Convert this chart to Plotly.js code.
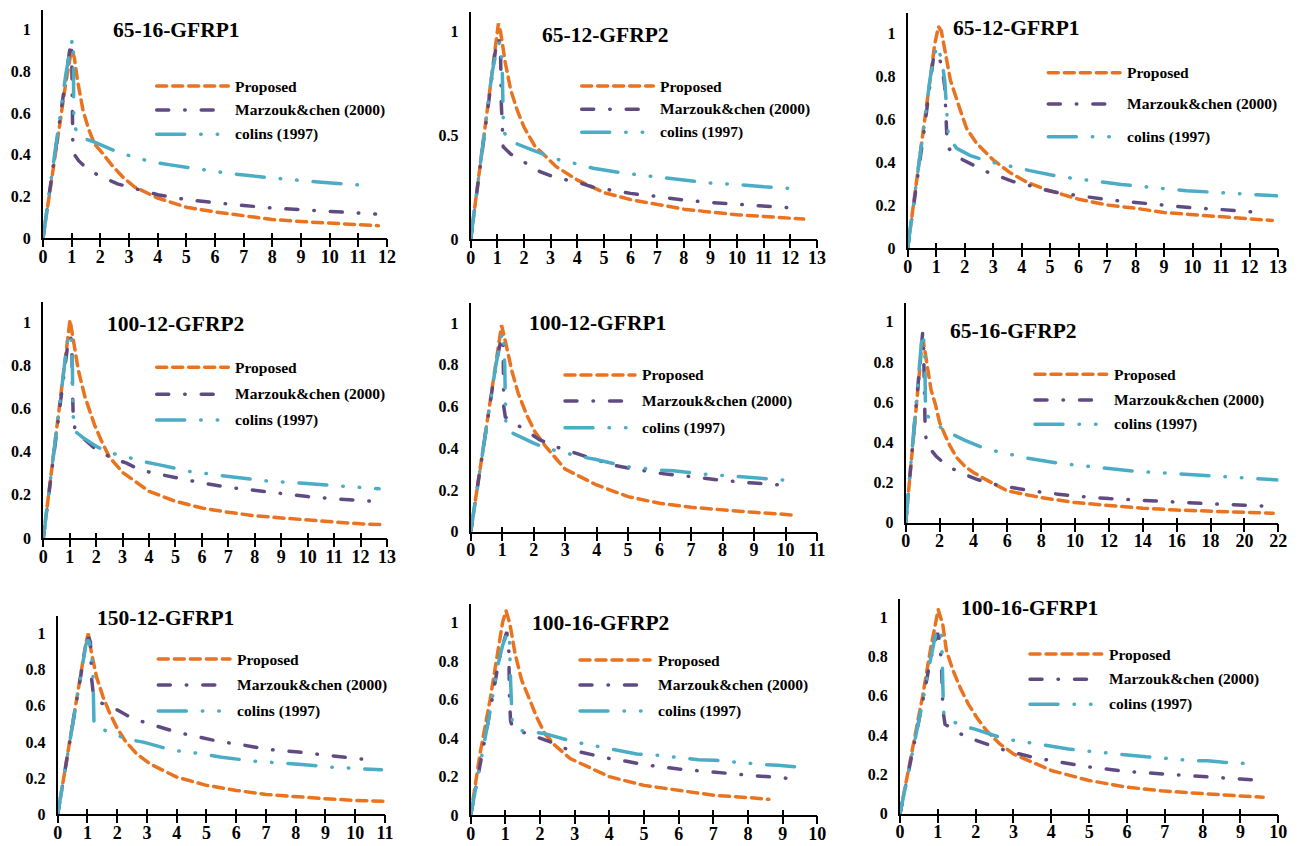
<!DOCTYPE html>
<html><head><meta charset="utf-8">
<script src="https://cdn.plot.ly/plotly-3.0.1.min.js"></script>
<style>
html,body{margin:0;padding:0;background:#fff;}
#chart{width:1298px;height:846px;}
.js-line, .shapelayer path { stroke-linecap: round !important; }
</style></head><body><div id="chart"></div>
<script>
// ---------- DATA ----------
const seriesNames = ['Proposed', 'Marzouk&chen (2000)', 'colins (1997)'];
const panelTitles = ['65-16-GFRP1', '65-12-GFRP2', '65-12-GFRP1', '100-12-GFRP2', '100-12-GFRP1', '65-16-GFRP2', '150-12-GFRP1', '100-16-GFRP2', '100-16-GFRP1'];
const xMaxes = [12, 13, 13, 13, 11, 22, 11, 10, 10];
const xDticks = [1, 1, 1, 1, 1, 2, 1, 1, 1];
const yDticks = [0.2, 0.5, 0.2, 0.2, 0.2, 0.2, 0.2, 0.2, 0.2];

// Panel 1: 65-16-GFRP1
const p1PropX = [0, 0.3, 0.6, 0.8, 0.95, 1.03, 1.1, 1.2, 1.3, 1.4, 1.6, 1.8, 2.0, 2.4, 2.8, 3.2, 4, 5, 6, 7, 8, 9, 10, 11, 11.7];
const p1PropY = [0, 0.27, 0.56, 0.75, 0.87, 0.9, 0.86, 0.76, 0.68, 0.61, 0.52, 0.45, 0.42, 0.35, 0.29, 0.245, 0.192, 0.148, 0.125, 0.105, 0.089, 0.079, 0.071, 0.064, 0.059];
const p1MarzX = [0, 0.3, 0.6, 0.8, 0.97, 1.0, 1.02, 1.04, 1.1, 1.25, 1.6, 2.1, 2.6, 3.1, 4, 5, 6, 7, 8, 9, 10, 11, 11.6];
const p1MarzY = [0, 0.3, 0.58, 0.78, 0.94, 0.9, 0.6, 0.45, 0.4, 0.37, 0.325, 0.29, 0.26, 0.24, 0.208, 0.184, 0.168, 0.156, 0.144, 0.136, 0.128, 0.122, 0.115];
const p1ColX = [0, 0.3, 0.6, 0.8, 1.0, 1.06, 1.07, 1.1, 1.2, 1.5, 1.8, 2.2, 2.7, 3.2, 3.8, 4.5, 5.5, 6.5, 7.5, 8.5, 9.5, 10.5, 11.5];
const p1ColY = [0, 0.29, 0.59, 0.79, 0.94, 0.955, 0.6, 0.54, 0.5, 0.475, 0.46, 0.435, 0.407, 0.388, 0.365, 0.35, 0.33, 0.31, 0.295, 0.281, 0.27, 0.26, 0.25];

// Panel 2: 65-12-GFRP2
const p2PropX = [0, 0.3, 0.6, 0.8, 0.95, 1.04, 1.12, 1.2, 1.3, 1.5, 1.75, 2.0, 2.4, 2.8, 3.2, 4, 5, 6, 7, 8, 9, 10, 11, 12, 12.5];
const p2PropY = [0, 0.3, 0.6, 0.8, 0.96, 1.04, 1.0, 0.93, 0.85, 0.72, 0.62, 0.54, 0.45, 0.4, 0.35, 0.285, 0.224, 0.19, 0.165, 0.144, 0.13, 0.117, 0.109, 0.1, 0.096];
const p2MarzX = [0, 0.3, 0.6, 0.8, 0.95, 1.05, 1.12, 1.15, 1.18, 1.22, 1.5, 2.0, 2.6, 3.1, 3.6, 4.1, 4.6, 5.3, 6, 7, 8, 9, 10, 11, 12.2];
const p2MarzY = [0, 0.3, 0.6, 0.8, 0.93, 0.97, 0.9, 0.65, 0.52, 0.445, 0.41, 0.37, 0.325, 0.3, 0.285, 0.27, 0.25, 0.234, 0.22, 0.205, 0.188, 0.176, 0.167, 0.157, 0.149];
const p2ColX = [0, 0.3, 0.6, 0.8, 1.0, 1.1, 1.18, 1.2, 1.23, 1.35, 1.75, 2.3, 2.85, 3.4, 4.0, 4.6, 5.8, 7.0, 8.0, 9.0, 10.0, 11.0, 12.3];
const p2ColY = [0, 0.3, 0.6, 0.8, 0.93, 0.95, 0.85, 0.6, 0.52, 0.494, 0.458, 0.43, 0.405, 0.378, 0.362, 0.341, 0.317, 0.3, 0.283, 0.27, 0.263, 0.252, 0.242];

// Panel 3: 65-12-GFRP1
const p3PropX = [0, 0.3, 0.6, 0.8, 0.95, 1.08, 1.18, 1.25, 1.35, 1.5, 1.85, 2.07, 2.42, 3.0, 3.6, 4.2, 4.9, 6, 7, 8, 9, 10, 11, 12, 12.8];
const p3PropY = [0, 0.3, 0.6, 0.8, 0.95, 1.03, 1.01, 0.96, 0.88, 0.78, 0.64, 0.556, 0.487, 0.41, 0.35, 0.305, 0.27, 0.227, 0.2, 0.185, 0.165, 0.155, 0.144, 0.136, 0.128];
const p3MarzX = [0, 0.3, 0.6, 0.8, 0.92, 1.05, 1.2, 1.3, 1.35, 1.38, 1.43, 1.84, 2.3, 2.77, 3.24, 3.7, 4.2, 4.7, 5.25, 6, 7, 8, 9, 10, 11, 12.2];
const p3MarzY = [0, 0.28, 0.57, 0.78, 0.9, 0.9, 0.85, 0.75, 0.6, 0.5, 0.464, 0.417, 0.386, 0.355, 0.332, 0.309, 0.294, 0.274, 0.258, 0.245, 0.225, 0.212, 0.198, 0.187, 0.179, 0.167];
const p3ColX = [0, 0.3, 0.6, 0.8, 1.02, 1.19, 1.3, 1.35, 1.38, 1.43, 1.72, 2.2, 2.77, 3.12, 3.73, 4.29, 5.35, 6.48, 7.5, 8.65, 9.79, 10.9, 12.03, 12.95];
const p3ColY = [0, 0.3, 0.6, 0.8, 0.943, 0.88, 0.78, 0.67, 0.58, 0.518, 0.464, 0.43, 0.405, 0.394, 0.376, 0.36, 0.332, 0.312, 0.296, 0.281, 0.267, 0.258, 0.25, 0.243];

// Panel 4: 100-12-GFRP2
const p4PropX = [0, 0.3, 0.6, 0.8, 0.95, 1.01, 1.16, 1.32, 1.57, 1.95, 2.2, 2.5, 3, 4, 5, 6, 7, 8, 9, 10, 11, 12, 12.8];
const p4PropY = [0, 0.3, 0.6, 0.8, 0.97, 1.01, 0.9, 0.78, 0.656, 0.52, 0.45, 0.375, 0.304, 0.216, 0.17, 0.139, 0.119, 0.103, 0.093, 0.082, 0.074, 0.066, 0.062];
const p4MarzX = [0, 0.3, 0.6, 0.8, 0.95, 1.03, 1.08, 1.1, 1.13, 1.2, 1.5, 2.0, 2.6, 3.15, 3.65, 4.2, 5, 6, 7, 8, 9, 10, 11, 12, 12.85];
const p4MarzY = [0, 0.3, 0.6, 0.8, 0.92, 0.935, 0.9, 0.7, 0.57, 0.5, 0.463, 0.41, 0.37, 0.347, 0.316, 0.3, 0.28, 0.255, 0.235, 0.22, 0.203, 0.192, 0.182, 0.172, 0.167];
const p4ColX = [0, 0.3, 0.6, 0.8, 0.95, 1.05, 1.1, 1.12, 1.15, 1.25, 1.5, 2.0, 2.5, 3.1, 3.75, 4.35, 5.5, 6.7, 7.3, 8.4, 9.7, 10.3, 11.5, 12.7];
const p4ColY = [0, 0.3, 0.6, 0.8, 0.95, 0.94, 0.8, 0.6, 0.52, 0.49, 0.465, 0.425, 0.395, 0.378, 0.355, 0.34, 0.309, 0.29, 0.282, 0.265, 0.255, 0.25, 0.239, 0.228];

// Panel 5: 100-12-GFRP1
const p5PropX = [0, 0.3, 0.6, 0.8, 0.98, 1.12, 1.3, 1.51, 1.78, 2.04, 2.4, 3, 4, 5, 6, 7, 8, 9, 10, 10.2];
const p5PropY = [0, 0.3, 0.6, 0.8, 0.99, 0.9, 0.775, 0.663, 0.559, 0.479, 0.405, 0.3, 0.224, 0.168, 0.136, 0.117, 0.104, 0.093, 0.083, 0.08];
const p5MarzX = [0, 0.3, 0.6, 0.8, 0.98, 1.03, 1.05, 1.1, 1.4, 1.9, 2.2, 2.7, 3.2, 3.6, 4.5, 5, 6, 7, 8, 9, 9.87];
const p5MarzY = [0, 0.3, 0.6, 0.8, 0.935, 0.9, 0.6, 0.55, 0.52, 0.47, 0.44, 0.407, 0.383, 0.36, 0.32, 0.305, 0.28, 0.264, 0.246, 0.233, 0.224];
const p5ColX = [0, 0.3, 0.6, 0.8, 1.0, 1.04, 1.08, 1.1, 1.12, 1.3, 1.57, 2.0, 2.41, 2.94, 3.47, 3.95, 4.95, 5.96, 6.43, 7.44, 8.47, 8.97, 9.93];
const p5ColY = [0, 0.3, 0.6, 0.8, 0.95, 0.958, 0.8, 0.58, 0.495, 0.475, 0.455, 0.425, 0.4, 0.379, 0.36, 0.347, 0.312, 0.296, 0.292, 0.276, 0.264, 0.26, 0.248];

// Panel 6: 65-16-GFRP2
const p6PropX = [0, 0.3, 0.6, 0.8, 0.95, 1.05, 1.15, 1.3, 1.5, 1.75, 2.0, 2.3, 2.6, 3.0, 3.5, 4.0, 4.5, 6, 8, 10, 12, 14, 16, 18, 20, 21.7];
const p6PropY = [0, 0.28, 0.56, 0.75, 0.88, 0.9, 0.84, 0.76, 0.66, 0.59, 0.5, 0.44, 0.385, 0.325, 0.28, 0.25, 0.225, 0.158, 0.125, 0.1, 0.085, 0.072, 0.063, 0.057, 0.05, 0.047];
const p6MarzX = [0, 0.3, 0.6, 0.8, 1.0, 1.05, 1.1, 1.15, 1.24, 1.8, 2.5, 3.3, 4.2, 5, 6, 7, 8, 9, 10, 12, 14, 16, 18, 20, 21.2];
const p6MarzY = [0, 0.28, 0.57, 0.76, 0.945, 0.9, 0.75, 0.46, 0.39, 0.33, 0.28, 0.246, 0.216, 0.195, 0.178, 0.163, 0.152, 0.142, 0.133, 0.12, 0.11, 0.1, 0.094, 0.087, 0.083];
const p6ColX = [0, 0.3, 0.6, 0.8, 0.98, 1.05, 1.13, 1.16, 1.24, 1.5, 1.98, 2.8, 3.5, 4.4, 5.4, 6.3, 7.2, 9, 11, 12, 13.7, 15.6, 16.6, 18.4, 20.3, 22];
const p6ColY = [0, 0.3, 0.6, 0.8, 0.945, 0.93, 0.845, 0.612, 0.537, 0.51, 0.479, 0.438, 0.41, 0.379, 0.354, 0.338, 0.321, 0.296, 0.28, 0.271, 0.255, 0.246, 0.241, 0.23, 0.221, 0.213];

// Panel 7: 150-12-GFRP1
const p7PropX = [0, 0.3, 0.6, 0.8, 0.95, 1.03, 1.14, 1.31, 1.53, 1.76, 1.98, 2.26, 2.65, 3.1, 4, 5, 6, 7, 8, 9, 10, 11];
const p7PropY = [0, 0.3, 0.6, 0.8, 0.95, 1.0, 0.886, 0.757, 0.647, 0.555, 0.482, 0.408, 0.335, 0.279, 0.206, 0.16, 0.132, 0.11, 0.096, 0.086, 0.077, 0.072];
const p7MarzX = [0, 0.3, 0.6, 0.8, 0.95, 1.05, 1.1, 1.14, 1.2, 1.4, 1.6, 2.04, 2.54, 3.0, 3.44, 4.0, 4.5, 5.0, 5.5, 6.0, 7.0, 8.0, 9.1, 10.1, 10.64];
const p7MarzY = [0, 0.3, 0.6, 0.8, 0.94, 0.98, 0.95, 0.75, 0.66, 0.62, 0.607, 0.574, 0.528, 0.504, 0.482, 0.454, 0.436, 0.417, 0.4, 0.39, 0.36, 0.346, 0.325, 0.307, 0.301];
const p7ColX = [0, 0.3, 0.6, 0.8, 0.95, 1.03, 1.1, 1.18, 1.2, 1.22, 1.31, 1.81, 2.35, 2.88, 3.89, 4.42, 4.98, 5.51, 6.57, 7.08, 7.64, 8.2, 9.2, 9.76, 10.32, 10.88];
const p7ColY = [0, 0.3, 0.6, 0.8, 0.94, 0.965, 0.93, 0.82, 0.6, 0.5, 0.482, 0.449, 0.414, 0.399, 0.353, 0.344, 0.329, 0.316, 0.294, 0.289, 0.285, 0.276, 0.261, 0.257, 0.252, 0.246];

// Panel 8: 100-16-GFRP2
const p8PropX = [0, 0.27, 0.56, 0.8, 0.92, 1.02, 1.13, 1.28, 1.47, 1.71, 1.9, 2.14, 2.43, 2.87, 4, 5, 6, 7, 8, 8.6];
const p8PropY = [0, 0.32, 0.6, 0.88, 1.0, 1.06, 0.993, 0.838, 0.7, 0.596, 0.51, 0.423, 0.363, 0.294, 0.2, 0.155, 0.13, 0.104, 0.092, 0.083];
const p8MarzX = [0, 0.27, 0.56, 0.8, 0.92, 1.04, 1.1, 1.12, 1.15, 1.2, 1.6, 1.9, 2.3, 2.7, 3.15, 3.55, 4, 4.5, 5, 6, 7, 8, 9, 9.26];
const p8MarzY = [0, 0.25, 0.54, 0.79, 0.88, 0.95, 0.85, 0.6, 0.49, 0.458, 0.423, 0.406, 0.38, 0.347, 0.328, 0.311, 0.294, 0.28, 0.262, 0.24, 0.222, 0.208, 0.194, 0.19];
const p8ColX = [0, 0.27, 0.56, 0.8, 0.92, 1.06, 1.12, 1.15, 1.17, 1.2, 1.42, 1.71, 2.14, 3.0, 3.47, 3.92, 4.79, 5.25, 5.7, 6.57, 7.05, 7.53, 8.39, 8.86, 9.31, 9.69];
const p8ColY = [0, 0.25, 0.54, 0.79, 0.88, 0.95, 0.9, 0.7, 0.52, 0.475, 0.44, 0.435, 0.423, 0.38, 0.363, 0.345, 0.318, 0.314, 0.306, 0.288, 0.285, 0.276, 0.264, 0.259, 0.254, 0.247];

// Panel 9: 100-16-GFRP1
const p9PropX = [0, 0.3, 0.6, 0.8, 0.93, 1.01, 1.13, 1.23, 1.41, 1.59, 1.81, 2.03, 2.29, 2.64, 3, 4, 5, 6, 7, 8, 9, 9.6];
const p9PropY = [0, 0.3, 0.6, 0.83, 0.97, 1.04, 0.963, 0.828, 0.726, 0.642, 0.557, 0.49, 0.422, 0.355, 0.304, 0.22, 0.169, 0.135, 0.115, 0.101, 0.09, 0.084];
const p9MarzX = [0, 0.3, 0.6, 0.8, 0.99, 1.05, 1.1, 1.12, 1.15, 1.19, 1.66, 2.03, 2.4, 2.8, 3.17, 3.52, 4, 4.5, 5, 6, 7, 8, 9, 9.6];
const p9MarzY = [0, 0.28, 0.57, 0.78, 0.92, 0.88, 0.75, 0.6, 0.507, 0.456, 0.4, 0.372, 0.346, 0.321, 0.304, 0.287, 0.27, 0.255, 0.238, 0.215, 0.2, 0.189, 0.177, 0.169];
const p9ColX = [0, 0.3, 0.6, 0.8, 0.95, 1.04, 1.1, 1.12, 1.15, 1.2, 1.59, 1.98, 2.78, 3.22, 3.61, 4.45, 4.85, 5.24, 6.08, 6.5, 6.92, 7.71, 8.13, 8.55, 9.38];
const p9ColY = [0, 0.28, 0.57, 0.78, 0.92, 0.946, 0.9, 0.75, 0.52, 0.49, 0.451, 0.431, 0.38, 0.368, 0.355, 0.329, 0.321, 0.313, 0.296, 0.29, 0.284, 0.27, 0.27, 0.262, 0.253];

// ---------- ASSEMBLY ----------
const panelSeries = [
  [[p1PropX, p1PropY], [p1MarzX, p1MarzY], [p1ColX, p1ColY]],
  [[p2PropX, p2PropY], [p2MarzX, p2MarzY], [p2ColX, p2ColY]],
  [[p3PropX, p3PropY], [p3MarzX, p3MarzY], [p3ColX, p3ColY]],
  [[p4PropX, p4PropY], [p4MarzX, p4MarzY], [p4ColX, p4ColY]],
  [[p5PropX, p5PropY], [p5MarzX, p5MarzY], [p5ColX, p5ColY]],
  [[p6PropX, p6PropY], [p6MarzX, p6MarzY], [p6ColX, p6ColY]],
  [[p7PropX, p7PropY], [p7MarzX, p7MarzY], [p7ColX, p7ColY]],
  [[p8PropX, p8PropY], [p8MarzX, p8MarzY], [p8ColX, p8ColY]],
  [[p9PropX, p9PropY], [p9MarzX, p9MarzY], [p9ColX, p9ColY]]
];

const W = 1298, H = 846;
// plot area boxes in px: [left, right, top, bottom]
const boxes = [
  [43, 387, 10, 238], [470.7, 817, 12, 239], [907.7, 1278, 12.7, 248],
  [43.3, 387, 301.7, 538], [470.7, 817, 303.3, 531.7], [905.7, 1278.3, 302.7, 522.7],
  [57.7, 385, 616.3, 814.3], [470.7, 817.3, 604, 815.3], [900, 1278.3, 598.7, 813.7]
];
const titlePos = [[176.5, 30.5], [605, 35], [1016.7, 27.5], [175, 324], [597.5, 323.3], [1013.3, 330.8], [165.8, 617.5], [600, 622.5], [1029.2, 607.5]];
// legend: [sampleX0, sampleX1, textX, row1Y, row2Y, row3Y]
const legendPos = [
  [156.7, 228.3, 233.3, 86, 110, 134.3], [581.7, 653.3, 658.3, 86, 109.3, 132.3], [1048.3, 1120, 1125, 72.7, 104, 136.7],
  [156.7, 228.3, 232.7, 367.3, 394.3, 420], [565, 635, 640, 375, 401, 427.7], [1035, 1106.7, 1111.7, 374.3, 400, 424.3],
  [158.3, 230, 235, 659, 685, 711], [580, 650, 656, 660, 685, 711], [1030, 1101.7, 1106.7, 654, 679.3, 704.3]
];
const colors = ['#E9731F', '#5F4B82', '#4BACC6'];
const dashes = ['10px,6px', '12px,16px,0.5px,16px', '28px,16px,0.5px,16px,0.5px,16px'];
const LW = 3.5;
const serif = 'Liberation Serif, Times New Roman, serif';

const traces = [];
const layout = {
  width: W, height: H, margin: {l: 0, r: 0, t: 0, b: 0},
  paper_bgcolor: '#fff', plot_bgcolor: 'rgba(0,0,0,0)', showlegend: false,
  font: {family: serif, color: '#000'},
  annotations: [], shapes: []
};
const px2x = v => v / W, px2y = v => 1 - v / H;

for (let k = 0; k < 9; k++) {
  const n = k + 1;
  const xa = n === 1 ? 'x' : 'x' + n, ya = n === 1 ? 'y' : 'y' + n;
  const xk = n === 1 ? 'xaxis' : 'xaxis' + n, yk = n === 1 ? 'yaxis' : 'yaxis' + n;
  const b = boxes[k];
  layout[xk] = {
    domain: [px2x(b[0]), px2x(b[1])], anchor: ya, range: [0, xMaxes[k]],
    showline: true, linecolor: '#000', linewidth: 2, showgrid: false, zeroline: false,
    ticks: 'inside', ticklen: 5, tickwidth: 2, tickcolor: '#000',
    tick0: 0, dtick: xDticks[k], ticklabelstandoff: 1,
    tickfont: {family: serif, size: 18, weight: 'bold', color: '#000'}
  };
  layout[yk] = {
    domain: [px2y(b[3]), px2y(b[2])], anchor: xa, range: [0, 1.095],
    showline: true, linecolor: '#000', linewidth: 2, showgrid: false, zeroline: false,
    ticks: '', tick0: 0, dtick: yDticks[k], ticklabelstandoff: 7,
    tickfont: {family: serif, size: 16, weight: 'bold', color: '#000'}
  };
  // overlay axis for the lower half of the crossing tick marks
  const on = 9 + n;
  layout['xaxis' + on] = {
    overlaying: xa, anchor: ya, range: [0, xMaxes[k]], showline: false, showgrid: false, zeroline: false,
    ticks: 'outside', ticklen: 8, tickwidth: 2, tickcolor: '#000', tick0: 0, dtick: xDticks[k], showticklabels: false
  };
  traces.push({x: [], y: [], xaxis: 'x' + on, yaxis: ya, mode: 'lines', hoverinfo: 'skip', showlegend: false});

  for (let s = 0; s < 3; s++) {
    const d = panelSeries[k][s];
    traces.push({
      x: d[0], y: d[1], xaxis: xa, yaxis: ya, mode: 'lines', name: seriesNames[s],
      line: {color: colors[s], width: LW, dash: dashes[s], shape: 'linear'},
      hoverinfo: 'skip', showlegend: false
    });
  }
  // panel title
  layout.annotations.push({
    text: panelTitles[k], xref: 'paper', yref: 'paper', x: px2x(titlePos[k][0]), y: px2y(titlePos[k][1]),
    xanchor: 'center', yanchor: 'middle', showarrow: false,
    font: {family: serif, size: 21.5, weight: 'bold', color: '#000'}
  });
  // legend
  const L = legendPos[k];
  for (let s = 0; s < 3; s++) {
    const yy = px2y(L[3 + s]);
    layout.shapes.push({
      type: 'line', xref: 'paper', yref: 'paper', x0: px2x(L[0]), x1: px2x(L[1]), y0: yy, y1: yy,
      line: {color: colors[s], width: LW, dash: dashes[s]}
    });
    layout.annotations.push({
      text: seriesNames[s], xref: 'paper', yref: 'paper', x: px2x(L[2]), y: yy,
      xanchor: 'left', yanchor: 'middle', showarrow: false,
      font: {family: serif, size: 15.5, weight: 'bold', color: '#000'}
    });
  }
}

Plotly.newPlot('chart', traces, layout, {staticPlot: true, displayModeBar: false});
</script></body></html>
